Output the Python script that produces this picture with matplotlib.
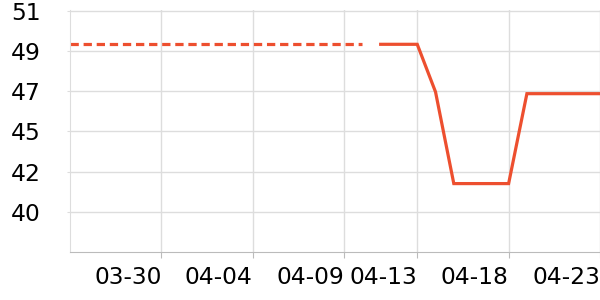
import numpy as np
import matplotlib
matplotlib.use("Agg")
import matplotlib.pyplot as plt
import matplotlib.dates as mdates

# data
dash_dates = np.arange(np.datetime64("2024-03-25"), np.datetime64("2024-04-11"))
dash_vals = [49.5] * 17
solid_dates = np.arange(np.datetime64("2024-04-11"), np.datetime64("2024-04-24"))
solid_vals = [49.5, 49.5, 49.5, 46.8, 41.6, 41.6, 41.6, 41.6, 46.7, 46.7, 46.7, 46.7, 46.7]
tick_dates = ["2024-03-30", "2024-04-04", "2024-04-09", "2024-04-13", "2024-04-18", "2024-04-23"]
y_ticks = [40 + 2.28 * k for k in range(6)]

col = "#ed4f2f"
fig = plt.figure(figsize=(6, 3), dpi=100)
ax = fig.add_axes([70 / 600, 48 / 300, 530 / 600, 242 / 300])

ax.plot(dash_dates.astype("datetime64[D]").astype(object), dash_vals, color=col, lw=2.3,
        dashes=(2.6, 1.5), solid_capstyle="butt", dash_capstyle="butt")
ax.plot(solid_dates.astype("datetime64[D]").astype(object), solid_vals, color=col, lw=2.3,
        solid_joinstyle="miter")

ax.set_xlim(np.datetime64("2024-03-25").astype(object), np.datetime64("2024-04-23").astype(object))
ax.set_ylim(40 - 2.28, 40 + 2.28 * 5.02)
xt = [np.datetime64(d).astype(object) for d in tick_dates]
ax.set_xticks(xt)
ax.xaxis.set_major_formatter(mdates.DateFormatter("%m-%d"))
ax.set_yticks(y_ticks)
ax.set_yticklabels(["%.0f" % v for v in y_ticks])

for lab in ax.get_xticklabels():
    lab.set_horizontalalignment("right")

ax.grid(True, color="#dddddd", lw=1)
ax.set_axisbelow(True)
for s in ["top", "right"]:
    ax.spines[s].set_visible(False)
ax.spines["left"].set_color("#dddddd")
ax.spines["bottom"].set_color("#bbbbbb")
ax.tick_params(axis="x", length=4, color="#bbbbbb", pad=6, labelsize=16.8)
ax.tick_params(axis="y", length=2, color="#dddddd", pad=19, labelsize=16.8)

fig.savefig("out.png", dpi=100)
